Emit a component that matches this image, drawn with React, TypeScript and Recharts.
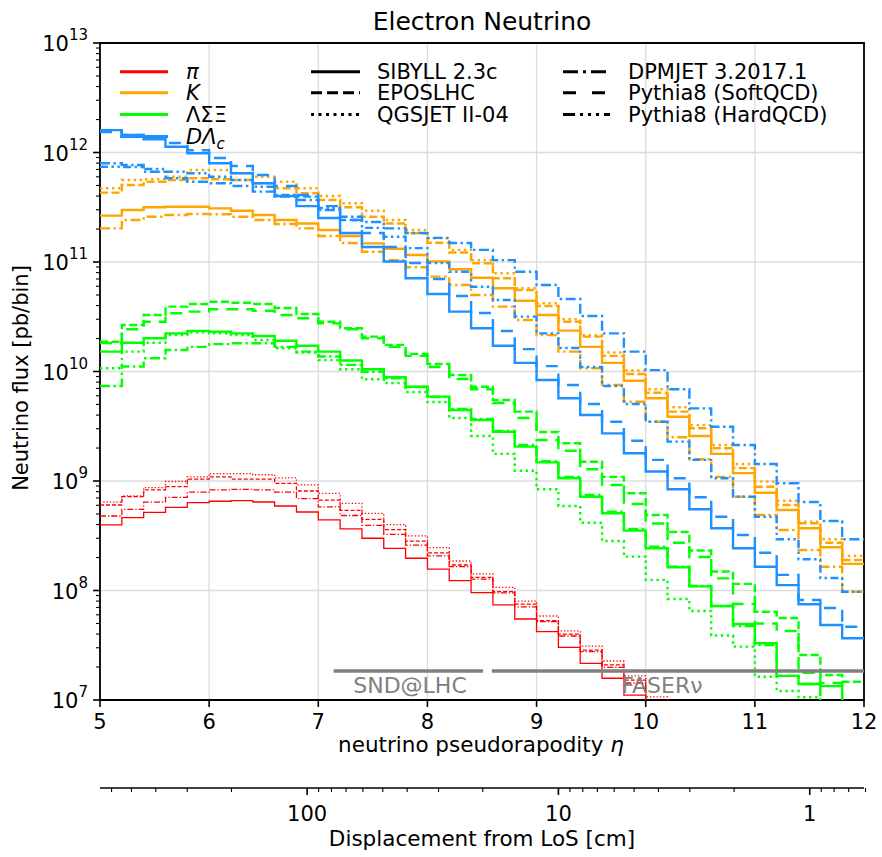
import React from "react";
import {
  LineChart, Line, XAxis, YAxis, CartesianGrid, ReferenceLine, ReferenceArea,
} from "recharts";

const FONT = "DejaVu Sans, Verdana, sans-serif";
const RED = "#ff0000";
const ORANGE = "#ffa500";
const GREEN = "#00ff00";
const BLUE = "#1e90ff";
const GREY = "#808080";

// ── Data: bin edges (width 0.2) and flux per bin [pb/bin] ───────────────────

const ETA_EDGES = [
  5.0, 5.2, 5.4, 5.6, 5.8, 6.0, 6.2, 6.4, 6.6, 6.8, 7.0, 7.2, 7.4, 7.6, 7.8, 8.0, 8.2, 8.4,
  8.6, 8.8, 9.0, 9.2, 9.4, 9.6, 9.8, 10.0, 10.2, 10.4, 10.6, 10.8, 11.0, 11.2, 11.4, 11.6, 11.8, 12.0,
];

// pions
const PI_SIBYLL = [3.97e8, 4.62e8, 5.18e8, 5.75e8, 6.34e8, 6.53e8, 6.61e8, 6.43e8, 5.91e8, 5.21e8, 4.41e8, 3.65e8, 3.0e8, 2.43e8, 1.97e8, 1.57e8, 1.23e8, 9.55e7, 7.38e7, 5.49e7, 4.21e7, 3.03e7, 2.16e7, 1.58e7, 1.11e7, 7.6e6, 5.3e6, 3.7e6, 2.6e6, 1.8e6, 1.25e6, 8.6e5, 6e5, 4.1e5, 2.8e5];
const PI_EPOS = [6.04e8, 7.2e8, 8.3e8, 8.9e8, 1.04e9, 1.09e9, 1.04e9, 1.04e9, 9.5e8, 8.1e8, 6.7e8, 5.4e8, 4.47e8, 3.59e8, 2.83e8, 2.21e8, 1.71e8, 1.32e8, 9.75e7, 7.5e7, 5.3e7, 4.0e7, 2.86e7, 2.09e7, 1.52e7, 9.6e6, 6.7e6, 4.7e6, 3.3e6, 2.3e6, 1.6e6, 1.1e6, 7.8e5, 5.4e5, 3.8e5];
const PI_QGSJET = [6.4e8, 7.3e8, 8.7e8, 9.9e8, 1.09e9, 1.17e9, 1.17e9, 1.14e9, 1.07e9, 9.2e8, 7.7e8, 6.25e8, 5.07e8, 4.0e8, 3.15e8, 2.46e8, 1.86e8, 1.42e8, 1.07e8, 8.0e7, 5.85e7, 4.27e7, 3.11e7, 2.27e7, 1.66e7, 1.07e7, 7.4e6, 5.2e6, 3.6e6, 2.5e6, 1.7e6, 1.2e6, 8.4e5, 5.9e5, 4.1e5];
const PI_DPMJET = [4.79e8, 5.5e8, 6.4e8, 7.1e8, 7.9e8, 8.3e8, 8.4e8, 8.3e8, 7.9e8, 6.9e8, 5.8e8, 4.84e8, 3.94e8, 3.25e8, 2.6e8, 2.07e8, 1.65e8, 1.27e8, 9.5e7, 7.1e7, 5.2e7, 3.84e7, 2.76e7, 1.99e7, 1.43e7, 9.3e6, 6.5e6, 4.5e6, 3.1e6, 2.2e6, 1.5e6, 1.05e6, 7.3e5, 5.1e5, 3.6e5];

// kaons
const K_SIBYLL = [2.65e11, 2.98e11, 3.16e11, 3.2e11, 3.2e11, 3.09e11, 2.94e11, 2.69e11, 2.42e11, 2.25e11, 1.96e11, 1.73e11, 1.48e11, 1.32e11, 1.16e11, 1.01e11, 8.58e10, 7.19e10, 5.75e10, 4.43e10, 3.28e10, 2.36e10, 1.68e10, 1.2e10, 8.24e9, 5.69e9, 3.86e9, 2.58e9, 1.77e9, 1.18e9, 7.82e8, 5.43e8, 3.7e8, 2.48e8, 1.75e8];
const K_EPOS = [4.3e11, 5.05e11, 5.41e11, 5.61e11, 5.81e11, 5.69e11, 5.61e11, 5.24e11, 4.71e11, 4.24e11, 3.68e11, 3.16e11, 2.59e11, 2.25e11, 1.83e11, 1.5e11, 1.22e11, 9.73e10, 7.1e10, 5.55e10, 3.96e10, 2.85e10, 2.08e10, 1.39e10, 9.49e9, 6.4e9, 4.3e9, 3.03e9, 1.99e9, 1.31e9, 8.87e8, 6.04e8, 4.11e8, 2.73e8, 1.9e8];
const K_QGSJET = [4.71e11, 5.61e11, 5.69e11, 6.01e11, 6.92e11, 6.92e11, 6.46e11, 6.01e11, 5.41e11, 4.71e11, 4.01e11, 3.44e11, 2.94e11, 2.42e11, 1.96e11, 1.65e11, 1.29e11, 1.04e11, 7.89e10, 5.75e10, 4.2e10, 3.0e10, 2.15e10, 1.49e10, 1.02e10, 6.88e9, 4.71e9, 3.24e9, 2.13e9, 1.43e9, 9.86e8, 6.61e8, 4.25e8, 2.94e8, 2.07e8];
const K_DPMJET = [2.03e11, 2.42e11, 2.59e11, 2.69e11, 2.74e11, 2.73e11, 2.59e11, 2.42e11, 2.22e11, 2.03e11, 1.73e11, 1.49e11, 1.24e11, 1.04e11, 8.95e10, 7.35e10, 6.17e10, 5.0e10, 3.91e10, 2.95e10, 2.15e10, 1.52e10, 1.07e10, 7.53e9, 5.3e9, 3.48e9, 2.51e9, 1.58e9, 1.09e9, 7.19e8, 4.89e8, 3.57e8, 2.34e8, 1.65e8, 9.75e7];

// hyperons
const HYP_SIBYLL = [1.52e10, 1.83e10, 2.01e10, 2.23e10, 2.34e10, 2.31e10, 2.23e10, 2.11e10, 1.91e10, 1.72e10, 1.52e10, 1.26e10, 1.05e10, 8.85e9, 7.26e9, 5.89e9, 4.45e9, 3.61e9, 2.82e9, 2.06e9, 1.48e9, 1.06e9, 7.19e8, 5.07e8, 3.52e8, 2.43e8, 1.63e8, 1.09e8, 7.21e7, 4.94e7, 3.3e7, 1.66e7, 1.4e7, 1.34e7, 8e6];
const HYP_EPOS = [1.87e10, 2.66e10, 3.28e10, 3.91e10, 4.13e10, 4.34e10, 4.25e10, 4.13e10, 3.8e10, 3.35e10, 2.85e10, 2.48e10, 2.08e10, 1.75e10, 1.45e10, 1.17e10, 9.29e9, 7.26e9, 5.5e9, 4.3e9, 2.8e9, 2.21e9, 1.5e9, 1.09e9, 7.72e8, 4.89e8, 3.42e8, 2.32e8, 1.49e8, 1.15e8, 6.4e7, 5.61e7, 2.58e7, 1.69e7, 1.47e7];
const HYP_QGSJET = [1.07e10, 1.52e10, 1.83e10, 2.15e10, 2.28e10, 2.23e10, 2.15e10, 1.94e10, 1.63e10, 1.49e10, 1.27e10, 1.05e10, 8.49e9, 7.85e9, 6.5e9, 5.26e9, 3.76e9, 2.58e9, 1.77e9, 1.24e9, 8.4e8, 5.91e8, 4.16e8, 2.83e8, 2.04e8, 1.25e8, 8.36e7, 6.5e7, 3.88e7, 3.07e7, 1.63e7, 1.21e7, 1.06e7, 7e6, 5e6];
const HYP_DPMJET = [7.38e9, 1.11e10, 1.32e10, 1.57e10, 1.68e10, 1.78e10, 1.81e10, 1.81e10, 1.68e10, 1.52e10, 1.37e10, 1.15e10, 9.95e9, 8.67e9, 7.21e9, 5.85e9, 4.55e9, 3.68e9, 2.86e9, 2.13e9, 1.52e9, 1.09e9, 7.45e8, 5.25e8, 3.65e8, 2.51e8, 1.65e8, 1.1e8, 7.21e7, 4.74e7, 3.18e7, 1.66e7, 1.4e7, 8e6, 6e6];
const HYP_PYTHIA_SOFT = [1.82e10, 2.43e10, 2.85e10, 3.4e10, 3.52e10, 3.7e10, 3.7e10, 3.59e10, 3.28e10, 3.06e10, 2.75e10, 2.43e10, 2.01e10, 1.68e10, 1.39e10, 1.1e10, 8.55e9, 6.88e9, 5.15e9, 3.76e9, 2.37e9, 1.89e9, 1.28e9, 9.19e8, 6.17e8, 4.09e8, 2.73e8, 2.02e8, 1.29e8, 7.53e7, 5.0e7, 4.27e7, 1.77e7, 1.43e7, 8e6];

// charm
const CHARM_SIBYLL = [1.6e12, 1.45e12, 1.32e12, 1.13e12, 9.84e11, 7.97e11, 6.46e11, 5.24e11, 4.01e11, 3.24e11, 2.52e11, 1.84e11, 1.37e11, 1.01e11, 7.1e10, 5.1e10, 3.52e10, 2.48e10, 1.72e10, 1.2e10, 8.36e9, 5.69e9, 4.01e9, 2.72e9, 1.79e9, 1.22e9, 8.4e8, 5.52e8, 3.7e8, 2.43e8, 1.65e8, 1.12e8, 7.5e7, 4.84e7, 3.66e7];
const CHARM_DPMJET = [7.97e11, 7.69e11, 6.68e11, 5.81e11, 5.41e11, 5.24e11, 4.94e11, 4.39e11, 3.95e11, 3.68e11, 2.98e11, 2.59e11, 2.32e11, 2.03e11, 1.84e11, 1.66e11, 1.49e11, 1.29e11, 1.04e11, 8.15e10, 6.17e10, 4.59e10, 3.21e10, 2.23e10, 1.52e10, 1.03e10, 6.88e9, 4.61e9, 3.13e9, 2.13e9, 1.43e9, 9.53e8, 6.43e8, 4.31e8, 2.94e8];
const CHARM_PYTHIA_SOFT = [1.54e12, 1.45e12, 1.39e12, 1.22e12, 1.05e12, 8.91e11, 7.53e11, 6.24e11, 4.94e11, 4.09e11, 3.24e11, 2.42e11, 1.84e11, 1.37e11, 9.8e10, 7.0e10, 4.89e10, 3.42e10, 2.34e10, 1.6e10, 1.12e10, 7.53e9, 5.05e9, 3.48e9, 2.33e9, 1.56e9, 1.06e9, 7.1e8, 4.72e8, 3.21e8, 2.21e8, 1.39e8, 8.19e7, 6.92e7, 4.67e7];
const CHARM_PYTHIA_HARD = [7.41e11, 7.38e11, 7.07e11, 6.68e11, 6.46e11, 6.01e11, 5.61e11, 4.87e11, 4.09e11, 3.95e11, 3.11e11, 2.42e11, 2.05e11, 1.7e11, 1.34e11, 9.8e10, 8.15e10, 5.95e10, 4.5e10, 3.17e10, 2.23e10, 1.64e10, 1.1e10, 7.38e9, 5.05e9, 3.48e9, 2.29e9, 1.56e9, 1.06e9, 7.19e8, 4.72e8, 2.94e8, 1.93e8, 1.3e8, 9.75e7];

// ── Axes ────────────────────────────────────────────────────────────────────

const ETA_TICKS = [5, 6, 7, 8, 9, 10, 11, 12];
const Y_MAJOR = [1e7, 1e8, 1e9, 1e10, 1e11, 1e12, 1e13];
const MINOR_STEPS = [2, 3, 4, 5, 6, 7, 8, 9];
const Y_TICKS = [
  ...Y_MAJOR,
  ...Y_MAJOR.slice(0, -1).flatMap((m) => MINOR_STEPS.map((k) => k * m)),
];

// displacement from line of sight: d = LOS_SCALE * exp(-eta)  [cm]
const LOS_SCALE = 99000;
const DISP_MAJOR = [100, 10, 1];
const DISP_MINOR = [600, 500, 400, 300, 200, 90, 80, 70, 60, 50, 40, 30, 20, 9, 8, 7, 6, 5, 4, 3, 2, 0.9, 0.8, 0.7, 0.6];
const dispToEta = (d: number) => Math.log(LOS_SCALE / d);
const DISP_TICKS = [...DISP_MAJOR, ...DISP_MINOR].map(dispToEta).sort((a, b) => a - b);

// detector acceptance bars
const DETECTOR_LEVEL = 1.84e7;
const SND_ETA = [7.14, 8.51];
const FASER_ETA = [8.59, 12];

// ── Styles ──────────────────────────────────────────────────────────────────

const DASHED = "8 3.5";
const DOTTED = "2.4 3.6";
const DASHDOT = "10 3.5 2.4 3.5";
const LONGDASH = "12 8";
const HARD = "8 3.5 2.4 3.5 2.4 3.5";

const SERIES = [
  { key: "piSibyll", values: PI_SIBYLL, color: RED, dash: undefined, width: 1.3 },
  { key: "piEpos", values: PI_EPOS, color: RED, dash: "4 2", width: 1.3 },
  { key: "piQgsjet", values: PI_QGSJET, color: RED, dash: "1.3 2", width: 1.3 },
  { key: "piDpmjet", values: PI_DPMJET, color: RED, dash: "6 2 1.3 2", width: 1.3 },
  { key: "kSibyll", values: K_SIBYLL, color: ORANGE, dash: undefined, width: 2.4 },
  { key: "kEpos", values: K_EPOS, color: ORANGE, dash: DASHED, width: 2.4 },
  { key: "kQgsjet", values: K_QGSJET, color: ORANGE, dash: DOTTED, width: 2.4 },
  { key: "kDpmjet", values: K_DPMJET, color: ORANGE, dash: DASHDOT, width: 2.4 },
  { key: "hypSibyll", values: HYP_SIBYLL, color: GREEN, dash: undefined, width: 2.4 },
  { key: "hypEpos", values: HYP_EPOS, color: GREEN, dash: DASHED, width: 2.4 },
  { key: "hypQgsjet", values: HYP_QGSJET, color: GREEN, dash: DOTTED, width: 2.4 },
  { key: "hypDpmjet", values: HYP_DPMJET, color: GREEN, dash: DASHDOT, width: 2.4 },
  { key: "hypPythiaSoft", values: HYP_PYTHIA_SOFT, color: GREEN, dash: LONGDASH, width: 2.4 },
  { key: "cSibyll", values: CHARM_SIBYLL, color: BLUE, dash: undefined, width: 2.4 },
  { key: "cDpmjet", values: CHARM_DPMJET, color: BLUE, dash: DASHDOT, width: 2.4 },
  { key: "cPythiaSoft", values: CHARM_PYTHIA_SOFT, color: BLUE, dash: LONGDASH, width: 2.4 },
  { key: "cPythiaHard", values: CHARM_PYTHIA_HARD, color: BLUE, dash: HARD, width: 2.4 },
];

const rows = ETA_EDGES.map((eta, i) => {
  const row: Record<string, number> = { eta };
  for (const s of SERIES) row[s.key] = s.values[Math.min(i, s.values.length - 1)];
  return row;
});

// ── Ticks ───────────────────────────────────────────────────────────────────

function YTick(props: any) {
  const { x, y, payload } = props;
  const v = payload.value as number;
  const major = Y_MAJOR.includes(v);
  const len = major ? 7 : 4;
  return (
    <g>
      <line x1={x - len} y1={y} x2={x} y2={y} stroke="#000" strokeWidth={major ? 1.6 : 1.1} />
      {major && (
        <text x={x - 12} y={y + 8} textAnchor="end" fontFamily={FONT} fontSize={21} fill="#000">
          10<tspan dy={-11} fontSize={15}>{Math.round(Math.log10(v))}</tspan>
        </text>
      )}
    </g>
  );
}

function EtaTick(props: any) {
  const { x, y, payload } = props;
  return (
    <g>
      <line x1={x} y1={y} x2={x} y2={y + 7} stroke="#000" strokeWidth={1.6} />
      <text x={x} y={y + 29} textAnchor="middle" fontFamily={FONT} fontSize={21} fill="#000">
        {payload.value}
      </text>
    </g>
  );
}

function DispTick(props: any) {
  const { x, y, payload } = props;
  const d = LOS_SCALE * Math.exp(-payload.value);
  const lg = Math.log10(d);
  const major = Math.abs(lg - Math.round(lg)) < 1e-6;
  return (
    <g>
      <line x1={x} y1={y} x2={x} y2={y + (major ? 7 : 4)} stroke="#000" strokeWidth={major ? 1.6 : 1.1} />
      {major && (
        <text x={x} y={y + 33} textAnchor="middle" fontFamily={FONT} fontSize={21} fill="#000">
          {Math.round(d)}
        </text>
      )}
    </g>
  );
}

// ── Legend and titles ───────────────────────────────────────────────────────

const ROWS_Y = [71.7, 92.7, 114.5, 136.5];

function Sample({ x1, x2, y, color, dash }: { x1: number; x2: number; y: number; color: string; dash?: string }) {
  return <line x1={x1} x2={x2} y1={y} y2={y} stroke={color} strokeWidth={3} strokeDasharray={dash} />;
}

function Overlay() {
  const t = { fontFamily: FONT, fill: "#000" } as const;
  const gens = [
    { x1: 311, x2: 360, tx: 377, y: ROWS_Y[0], dash: undefined, label: "SIBYLL 2.3c" },
    { x1: 311, x2: 360, tx: 377, y: ROWS_Y[1], dash: "11 5", label: "EPOSLHC" },
    { x1: 311, x2: 360, tx: 377, y: ROWS_Y[2], dash: "3 4.5", label: "QGSJET II-04" },
    { x1: 563, x2: 610, tx: 628, y: ROWS_Y[0], dash: "15 5 3 5", label: "DPMJET 3.2017.1" },
    { x1: 563, x2: 610, tx: 628, y: ROWS_Y[1], dash: "13 16", label: "Pythia8 (SoftQCD)" },
    { x1: 563, x2: 610, tx: 628, y: ROWS_Y[2], dash: "12 5 3 5 3 5 3 5", label: "Pythia8 (HardQCD)" },
  ];
  return (
    <svg width={882} height={857} style={{ position: "absolute", left: 0, top: 0, pointerEvents: "none" }}>
      <text x={482} y={30} textAnchor="middle" fontSize={25} {...t}>Electron Neutrino</text>
      <text transform="translate(28,378) rotate(-90)" textAnchor="middle" fontSize={21} {...t}>
        Neutrino flux [pb/bin]
      </text>
      <text x={481} y={752} textAnchor="middle" fontSize={21.5} {...t}>
        neutrino pseudorapodity <tspan fontStyle="italic">η</tspan>
      </text>
      <text x={482} y={846} textAnchor="middle" fontSize={21.5} {...t}>Displacement from LoS [cm]</text>

      {/* particle legend */}
      <Sample x1={120} x2={168} y={ROWS_Y[0]} color={RED} />
      <Sample x1={120} x2={168} y={ROWS_Y[1]} color={ORANGE} />
      <Sample x1={120} x2={168} y={ROWS_Y[2]} color={GREEN} />
      <Sample x1={120} x2={168} y={ROWS_Y[3]} color={BLUE} />
      <text x={186} y={ROWS_Y[0] + 7.5} fontSize={21} fontStyle="italic" {...t}>π</text>
      <text x={186} y={ROWS_Y[1] + 7.5} fontSize={21} fontStyle="italic" {...t}>K</text>
      <text x={186} y={ROWS_Y[2] + 7.5} fontSize={21} {...t}>ΛΣΞ</text>
      <text x={186} y={ROWS_Y[3] + 7.5} fontSize={21} fontStyle="italic" {...t}>
        DΛ<tspan dy={5} fontSize={15}>c</tspan>
      </text>

      {/* generator legend */}
      {gens.map((g) => (
        <g key={g.label}>
          <Sample x1={g.x1} x2={g.x2} y={g.y} color="#000" dash={g.dash} />
          <text x={g.tx} y={g.y + 7.5} fontSize={21} {...t}>{g.label}</text>
        </g>
      ))}

      {/* detector labels */}
      <text x={410} y={693} textAnchor="middle" fontSize={22} fontFamily={FONT} fill={GREY}>SND@LHC</text>
      <text x={662} y={693} textAnchor="middle" fontSize={22} fontFamily={FONT} fill={GREY}>FASERν</text>
    </svg>
  );
}

export default function App() {
  return (
    <div style={{ position: "absolute", left: 0, top: 0, width: 882, height: 857, background: "#fff" }}>
      <LineChart width={882} height={857} data={rows} margin={{ top: 43, right: 18, bottom: 0, left: 0 }}>
        <CartesianGrid
          stroke="#dcdcdc"
          strokeWidth={1.3}
          horizontalValues={Y_MAJOR}
          verticalValues={ETA_TICKS}
        />
        <XAxis
          dataKey="eta"
          type="number"
          domain={[5, 12]}
          ticks={ETA_TICKS}
          interval={0}
          allowDataOverflow
          axisLine={false}
          tickLine={false}
          tickSize={0}
          tickMargin={0}
          height={88}
          tick={<EtaTick />}
        />
        <XAxis
          xAxisId="disp"
          dataKey="eta"
          type="number"
          domain={[5, 12]}
          ticks={DISP_TICKS}
          interval={0}
          allowDataOverflow
          axisLine={{ stroke: "#000", strokeWidth: 1.7 }}
          tickLine={false}
          tickSize={0}
          tickMargin={0}
          height={69}
          tick={<DispTick />}
        />
        <YAxis
          type="number"
          scale="log"
          domain={[1e7, 1e13]}
          ticks={Y_TICKS}
          interval={0}
          allowDataOverflow
          axisLine={false}
          tickLine={false}
          tickSize={0}
          tickMargin={0}
          width={100}
          tick={<YTick />}
        />
        {SERIES.map((s) => (
          <Line
            key={s.key}
            dataKey={s.key}
            type="stepAfter"
            stroke={s.color}
            strokeWidth={s.width}
            strokeDasharray={s.dash}
            dot={false}
            activeDot={false}
            isAnimationActive={false}
          />
        ))}
        <ReferenceLine
          segment={[{ x: SND_ETA[0], y: DETECTOR_LEVEL }, { x: SND_ETA[1], y: DETECTOR_LEVEL }]}
          stroke={GREY}
          strokeWidth={3.5}
        />
        <ReferenceLine
          segment={[{ x: FASER_ETA[0], y: DETECTOR_LEVEL }, { x: FASER_ETA[1], y: DETECTOR_LEVEL }]}
          stroke={GREY}
          strokeWidth={3.5}
        />
        <ReferenceArea x1={5} x2={12} y1={1e7} y2={1e13} fill="none" stroke="#000" strokeWidth={1.8} />
      </LineChart>
      <Overlay />
    </div>
  );
}
